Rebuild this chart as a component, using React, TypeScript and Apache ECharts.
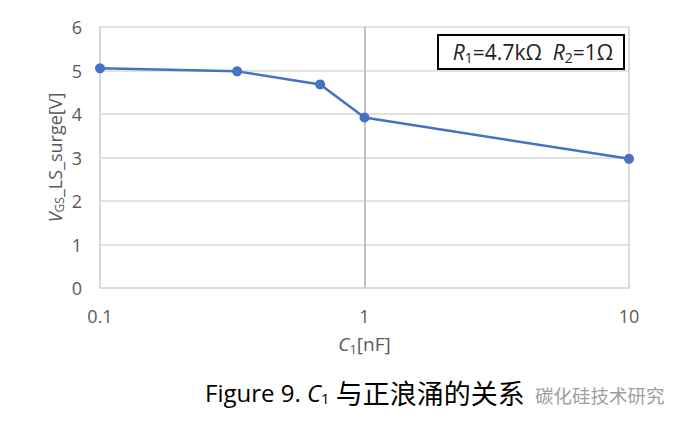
import React, { useEffect, useRef } from "react";
import * as echarts from "echarts";

const capacitance = [0.1, 0.33, 0.68, 1, 10];
const surgeVoltage = [5.05, 4.98, 4.68, 3.92, 2.97];
const yTicks = [0, 1, 2, 3, 4, 5, 6];
const xTickLabels = ["0.1", "1", "10"];

const FONT = "'Open Sans', 'Noto Sans', sans-serif";
const CJK = "'Noto Sans CJK SC', 'Open Sans', sans-serif";

export default function App() {
  const ref = useRef<HTMLDivElement>(null);
  useEffect(() => {
    if (!ref.current) return;
    const chart = echarts.init(ref.current, undefined, { renderer: "svg" });
    const data = capacitance.map((c, i) => [c, surgeVoltage[i]]);
    chart.setOption({
      animation: false,
      backgroundColor: "#ffffff",
      grid: { left: 100, right: 58, top: 27, bottom: 135, containLabel: false },
      xAxis: {
        type: "log",
        logBase: 10,
        min: 0.1,
        max: 10,
        name: "{i|C}{sub|1}{n|[nF]}",
        nameLocation: "middle",
        nameGap: 45,
        nameTextStyle: {
          rich: {
            i: { fontFamily: FONT, fontSize: 19, color: "#595959", fontStyle: "italic" },
            sub: { fontFamily: FONT, fontSize: 13, color: "#595959", verticalAlign: "bottom", padding: [9, 0, 0, 0] },
            n: { fontFamily: FONT, fontSize: 19, color: "#595959" },
          },
        },
        axisLine: { show: true, lineStyle: { color: "#d9d9d9", width: 1.5 } },
        axisTick: { show: false },
        axisLabel: {
          color: "#595959",
          fontFamily: FONT,
          fontSize: 18,
          margin: 19,
          formatter: (v: number) => {
            const s = String(+v.toPrecision(3));
            return xTickLabels.includes(s) ? s : "";
          },
        },
        splitLine: {
          show: true,
          lineStyle: { color: ["#d9d9d9", "#bdbdbd", "#d9d9d9"], width: 1.8 },
        },
      },
      yAxis: {
        type: "value",
        min: 0,
        max: 6,
        interval: 1,
        name: "{i|V}{sub|GS}{n|_LS_surge[V]}",
        nameLocation: "middle",
        nameRotate: 90,
        nameGap: 35,
        nameMoveOverlap: false,
        nameTextStyle: {
          rich: {
            i: { fontFamily: FONT, fontSize: 18, color: "#595959", fontStyle: "italic" },
            sub: { fontFamily: FONT, fontSize: 12, color: "#595959", verticalAlign: "bottom", padding: [9, 0, 0, 0] },
            n: { fontFamily: FONT, fontSize: 18, color: "#595959" },
          },
        },
        axisLine: { show: true, lineStyle: { color: "#d9d9d9", width: 1.5 } },
        axisTick: { show: false },
        axisLabel: {
          color: "#595959",
          fontFamily: FONT,
          fontSize: 18,
          margin: 18,
          formatter: (v: number) => (yTicks.includes(v) ? String(v) : ""),
        },
        splitLine: { show: true, lineStyle: { color: "#d9d9d9", width: 1.5 } },
      },
      series: [
        {
          type: "line",
          data,
          symbol: "circle",
          symbolSize: 10,
          lineStyle: { color: "#4472c4", width: 2.5 },
          itemStyle: { color: "#4472c4" },
          z: 5,
        },
      ],
      graphic: [
        {
          type: "rect",
          shape: { x: 438, y: 35, width: 186, height: 34 },
          style: { fill: "#ffffff", stroke: "#000000", lineWidth: 2 },
          z: 10,
        },
        {
          type: "text",
          x: 533,
          y: 52,
          z: 11,
          style: {
            text: "{i|R}{sub|1}{n|=4.7kΩ  }{i|R}{sub|2}{n|=1Ω}",
            align: "center",
            verticalAlign: "middle",
            rich: {
              i: { fontFamily: FONT, fontSize: 21, fill: "#222222", fontStyle: "italic" },
              sub: { fontFamily: FONT, fontSize: 14, fill: "#222222", verticalAlign: "bottom", padding: [10, 0, 0, 0] },
              n: { fontFamily: FONT, fontSize: 21, fill: "#222222" },
            },
          },
        },
        {
          type: "text",
          x: 205,
          y: 392,
          z: 11,
          style: {
            text: "{n|Figure 9. }{i|C}{sub|1}{c| 与正浪涌的关系}",
            align: "left",
            verticalAlign: "middle",
            rich: {
              n: { fontFamily: FONT, fontSize: 24, fill: "#000000" },
              i: { fontFamily: FONT, fontSize: 24, fill: "#000000", fontStyle: "italic" },
              sub: { fontFamily: FONT, fontSize: 15, fill: "#000000", verticalAlign: "bottom", padding: [11, 0, 0, 0] },
              c: { fontFamily: CJK, fontSize: 27, fill: "#000000" },
            },
          },
        },
        {
          type: "text",
          x: 535,
          y: 395,
          z: 12,
          style: {
            text: "碳化硅技术研究",
            fontFamily: CJK,
            fontSize: 18.5,
            fill: "#9e9e9e",
            align: "left",
            verticalAlign: "middle",
          },
        },
      ],
    });
    return () => chart.dispose();
  }, []);
  return (
    <div
      ref={ref}
      style={{ position: "fixed", left: 0, top: 0, width: 687, height: 423 }}
    />
  );
}
